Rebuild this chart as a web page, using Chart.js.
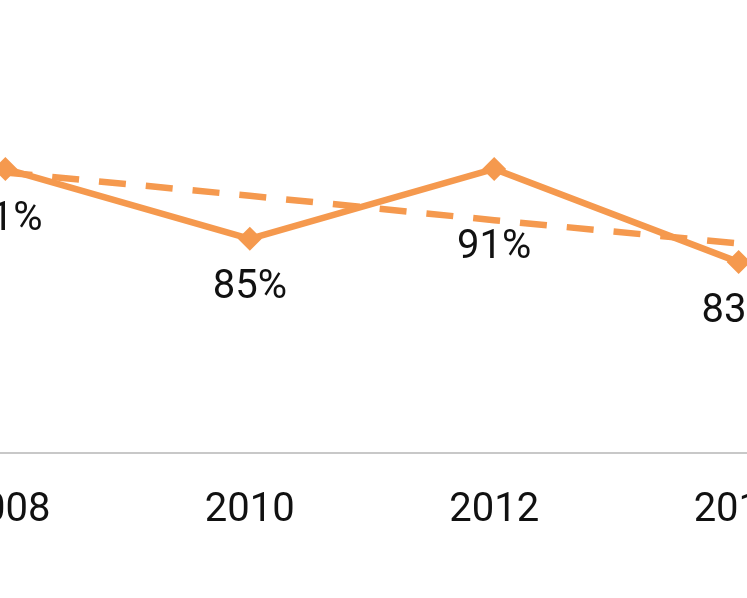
<!DOCTYPE html>
<html>
<head>
<meta charset="utf-8">
<script src="https://cdn.jsdelivr.net/npm/chart.js@4/dist/chart.umd.min.js"></script>
<style>
  html, body { margin: 0; padding: 0; background: #fff; overflow: hidden; width: 747px; height: 598px; }
  #wrap { position: absolute; left: -319px; top: 0; width: 1382px; height: 598px; }
</style>
</head>
<body>
<div id="wrap"><canvas id="chart"></canvas></div>
<script>
// Years on the x axis (2006 and 2016 lie just outside the visible crop)
const years = ['2006', '2008', '2010', '2012', '2014', '2016'];
// Share per year
const shareValues = [null, 91, 85, 91, 83, null];
// Dashed trend line
const trendValues = [null, 90.7, 88.7, 86.6, 84.6, null];

const orange = '#F5994E';

// Draw the percentage labels under each point
const valueLabels = {
    id: 'valueLabels',
    afterDatasetsDraw(chart, args, opts) {
        const ctx = chart.ctx;
        const meta = chart.getDatasetMeta(0);
        ctx.save();
        ctx.font = '40px Roboto';
        ctx.fillStyle = '#111';
        ctx.textAlign = 'center';
        ctx.textBaseline = 'middle';
        meta.data.forEach((pt, i) => {
            const v = shareValues[i];
            if (v === null) return;
            const off = opts.offsets[i] || 50;
            ctx.fillText(v + '%', pt.x, pt.y + off);
        });
        ctx.restore();
    }
};

const ctx = document.getElementById('chart').getContext('2d');
const chart = new Chart(ctx, {
    type: 'line',
    data: {
        labels: years,
        datasets: [{
            label: 'Share',
            data: shareValues,
            borderColor: orange,
            backgroundColor: orange,
            borderWidth: 6.5,
            pointStyle: 'rectRot',
            pointRadius: 12,
            pointHoverRadius: 12,
            pointBorderWidth: 0,
            tension: 0
        }, {
            label: 'Trend',
            data: trendValues,
            borderColor: orange,
            borderWidth: 6.5,
            borderDash: [27, 20],
            pointRadius: 0,
            tension: 0
        }]
    },
    options: {
        responsive: true,
        maintainAspectRatio: false,
        animation: false,
        layout: { padding: { left: 80, right: 80, top: 20, bottom: 29 } },
        scales: {
            x: {
                grid: { display: false, drawTicks: false },
                border: { display: true, color: '#c8c8c8', width: 2 },
                ticks: {
                    color: '#111',
                    font: { family: 'Roboto', size: 40 },
                    padding: 34,
                    maxRotation: 0,
                    autoSkip: false
                }
            },
            y: {
                display: false,
                min: 66.6,
                max: 103.8
            }
        },
        plugins: {
            legend: { display: false },
            tooltip: { enabled: false },
            valueLabels: { offsets: [0, 51, 49, 79, 50, 0] }
        }
    },
    plugins: [valueLabels]
});
</script>
</body>
</html>
